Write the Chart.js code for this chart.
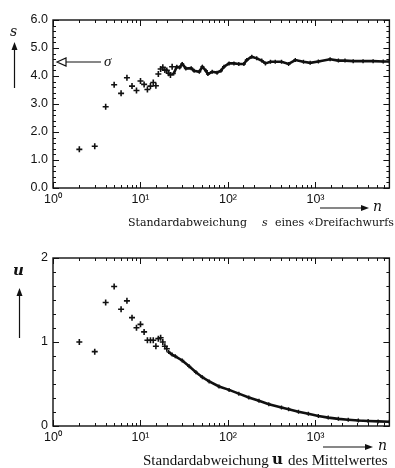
<!DOCTYPE html>
<html>
<head>
<meta charset="utf-8">
<script src="https://cdn.jsdelivr.net/npm/chart.js@4/dist/chart.umd.min.js"></script>
<style>
html,body{margin:0;padding:0;background:#fff;}
#wrap{position:relative;width:395px;height:468px;overflow:hidden;}
.box{position:absolute;left:0;width:395px;height:234px;}
</style>
</head>
<body>
<div id="wrap">
  <div class="box" style="top:0"><canvas id="sChart"></canvas></div>
  <div class="box" style="top:234px"><canvas id="uChart"></canvas></div>
</div>
<script>
// single throws at the start
var nSingle = [2,3,4,5,6,7,8,9,10,11,12,13,14,15,16,17,18,19,20,21,22,23];
var sSingle = [1.38,1.49,2.9,3.69,3.38,3.94,3.64,3.48,3.82,3.7,3.52,3.64,3.77,3.65,4.07,4.25,4.31,4.21,4.2,4.1,4.04,4.33];
// dense part, sampled along the band
var nRun = [24,26,28,30,33,38,41,47,51,56,59,66,75,83,90,103,117,133,152,164,187,213,243,268,306,347,409,493,588,730,870,1080,1470,1830,2175,2700,3500,4560,5950,7000];
var sRun = [4.09,4.33,4.3,4.43,4.27,4.28,4.19,4.15,4.33,4.19,4.07,4.15,4.12,4.19,4.33,4.45,4.45,4.43,4.43,4.57,4.69,4.63,4.55,4.45,4.51,4.51,4.51,4.43,4.57,4.51,4.47,4.52,4.6,4.55,4.55,4.53,4.53,4.53,4.52,4.52];

var nSingleU = [2,3,4,5,6,7,8,9,10,11,12,13,14,15,16,17,18,19,20];
var uSingle = [1.0,0.885,1.47,1.66,1.39,1.49,1.29,1.17,1.21,1.12,1.02,1.02,1.02,0.95,1.04,1.05,1.0,0.95,0.92];
var nRunU = [21,23,25,30,36,43,51,61,79,103,133,173,226,293,409,493,640,830,1080,1400,1830,2370,3090,4000,5200,7000];
var uRunU = [0.88,0.85,0.83,0.78,0.71,0.64,0.58,0.53,0.47,0.43,0.385,0.34,0.3,0.26,0.22,0.2,0.17,0.145,0.12,0.1,0.085,0.075,0.066,0.06,0.055,0.05];

var sigma = 4.5;
var nMax = 7000;
var sup = ['\u2070','\u00b9','\u00b2','\u00b3','\u2074'];

function pts(xs, ys){
    var out = [];
    xs.forEach(function(v, i){ out.push({x: v, y: ys[i]}); });
    return out;
}

function isDecade(v){
    var l = Math.log10(v);
    return Math.abs(l - Math.round(l)) < 1e-9;
}

// frame with inward ticks on all four sides
var frameTicks = {
    id: 'frameTicks',
    afterDatasetsDraw: function(chart){
        var ctx = chart.ctx, a = chart.chartArea;
        var x = chart.scales.x, y = chart.scales.y;
        ctx.save();
        ctx.strokeStyle = '#111';
        ctx.lineWidth = 1.4;
        ctx.strokeRect(a.left, a.top, a.right - a.left, a.bottom - a.top);
        ctx.lineWidth = 1;
        ctx.beginPath();
        x.ticks.forEach(function(t){
            var px = Math.round(x.getPixelForValue(t.value)) + 0.5;
            var len = isDecade(t.value) ? 6 : 3;
            ctx.moveTo(px, a.bottom); ctx.lineTo(px, a.bottom - len);
            ctx.moveTo(px, a.top); ctx.lineTo(px, a.top + len);
        });
        y.ticks.forEach(function(t){
            var py = Math.round(y.getPixelForValue(t.value)) + 0.5;
            var len = Math.abs(t.value - Math.round(t.value)) < 1e-6 ? 6 : 3;
            ctx.moveTo(a.left, py); ctx.lineTo(a.left + len, py);
            ctx.moveTo(a.right, py); ctx.lineTo(a.right - len, py);
        });
        ctx.stroke();
        ctx.restore();
    }
};

function arrowHead(ctx, x, y, dir, open){
    ctx.beginPath();
    if(dir === 'up'){ ctx.moveTo(x, y); ctx.lineTo(x - 3, y + 8); ctx.lineTo(x + 3, y + 8); }
    if(dir === 'right'){ ctx.moveTo(x, y); ctx.lineTo(x - 8, y - 3); ctx.lineTo(x - 8, y + 3); }
    if(dir === 'left'){ ctx.moveTo(x, y); ctx.lineTo(x + 9, y - 4); ctx.lineTo(x + 9, y + 4); }
    ctx.closePath();
    if(open){ ctx.fillStyle = '#fff'; ctx.fill(); ctx.stroke(); } else { ctx.fill(); }
}

function decorations(top){
    return {
        id: 'deco',
        afterDraw: function(chart){
            var ctx = chart.ctx, y = chart.scales.y;
            ctx.save();
            ctx.fillStyle = '#111';
            ctx.strokeStyle = '#111';
            ctx.lineWidth = 1.2;
            ctx.textBaseline = 'middle';
            if(top){
                ctx.font = 'italic 14px "DejaVu Serif"';
                ctx.fillText('s', 10, 32);
                ctx.beginPath(); ctx.moveTo(14.5, 88); ctx.lineTo(14.5, 48); ctx.stroke();
                arrowHead(ctx, 14.5, 42, 'up');
                // sigma marker
                var py = y.getPixelForValue(sigma);
                ctx.beginPath(); ctx.moveTo(66, py); ctx.lineTo(101, py); ctx.stroke();
                arrowHead(ctx, 57, py, 'left', true);
                ctx.fillStyle = '#111';
                ctx.font = 'italic 15px "Liberation Serif"';
                ctx.fillText('\u03c3', 104, py);
                // n arrow
                ctx.beginPath(); ctx.moveTo(320, 208); ctx.lineTo(362, 208); ctx.stroke();
                arrowHead(ctx, 369, 208, 'right');
                ctx.font = 'italic 14px "DejaVu Serif"';
                ctx.fillText('n', 373, 207);
                ctx.font = '11px "DejaVu Serif"';
                ctx.fillText('Standardabweichung', 128, 223);
                ctx.font = 'italic 11px "DejaVu Serif"';
                ctx.fillText('s', 262, 223);
                ctx.font = '11px "DejaVu Serif"';
                ctx.fillText('eines \u00abDreifachwurfs\u00bb', 275, 223);
            } else {
                ctx.font = 'bold italic 15px "DejaVu Serif"';
                ctx.fillText('u', 13, 37);
                ctx.beginPath(); ctx.moveTo(19.5, 104); ctx.lineTo(19.5, 60); ctx.stroke();
                arrowHead(ctx, 19.5, 54, 'up');
                ctx.beginPath(); ctx.moveTo(323, 213); ctx.lineTo(366, 213); ctx.stroke();
                arrowHead(ctx, 373, 213, 'right');
                ctx.font = 'italic 14px "DejaVu Serif"';
                ctx.fillText('n', 378, 212);
                ctx.font = '15px "Liberation Serif"';
                ctx.fillText('Standardabweichung', 143, 227);
                ctx.font = 'bold 15px "DejaVu Serif"';
                ctx.fillText('u', 272, 226);
                ctx.font = '15px "Liberation Serif"';
                ctx.fillText('des Mittelwertes', 288, 227);
            }
            ctx.restore();
        }
    };
}

function makeChart(id, single, run, yMax, yStep, top){
    var yLabel = function(v){
        if(Math.abs(v - Math.round(v)) > 1e-6) return '';
        return top ? v.toFixed(1) : String(Math.round(v));
    };
    return new Chart(document.getElementById(id), {
        type: 'scatter',
        data: {
            datasets: [
                {
                    data: single,
                    pointStyle: 'cross',
                    pointRadius: 3,
                    borderWidth: 1.6,
                    borderColor: '#111',
                    backgroundColor: '#111',
                    showLine: false
                },
                {
                    data: run,
                    pointStyle: 'cross',
                    pointRadius: 2,
                    pointBorderWidth: 1.4,
                    borderWidth: 2.6,
                    borderColor: '#111',
                    backgroundColor: '#111',
                    showLine: true,
                    tension: 0
                }
            ]
        },
        options: {
            responsive: true,
            maintainAspectRatio: false,
            animation: false,
            events: [],
            layout: {padding: {left: 0, right: 3, top: top ? 20 : 24, bottom: 0}},
            plugins: {legend: {display: false}, tooltip: {enabled: false}},
            scales: {
                x: {
                    type: 'logarithmic',
                    min: 1,
                    max: nMax,
                    grid: {display: false, drawTicks: false},
                    border: {display: false},
                    afterFit: function(s){ s.height = top ? 46 : 42; },
                    ticks: {
                        autoSkip: false,
                        maxRotation: 0,
                        padding: 4,
                        color: '#111',
                        font: {family: '"Liberation Sans"', size: 12.5},
                        callback: function(v){
                            if(!isDecade(v)) return '';
                            return '10' + sup[Math.round(Math.log10(v))];
                        }
                    }
                },
                y: {
                    min: 0,
                    max: yMax,
                    grid: {display: false, drawTicks: false},
                    border: {display: false},
                    afterFit: function(s){ s.width = 53; },
                    ticks: {
                        stepSize: yStep,
                        autoSkip: false,
                        padding: 5,
                        color: '#111',
                        font: {family: '"Liberation Sans"', size: 12.5},
                        callback: yLabel
                    }
                }
            }
        },
        plugins: [frameTicks, decorations(top)]
    });
}

makeChart('sChart', pts(nSingle, sSingle), pts(nRun, sRun), 6, 0.2, true);
makeChart('uChart', pts(nSingleU, uSingle), pts(nRunU, uRunU), 2, 1/6, false);
</script>
</body>
</html>
